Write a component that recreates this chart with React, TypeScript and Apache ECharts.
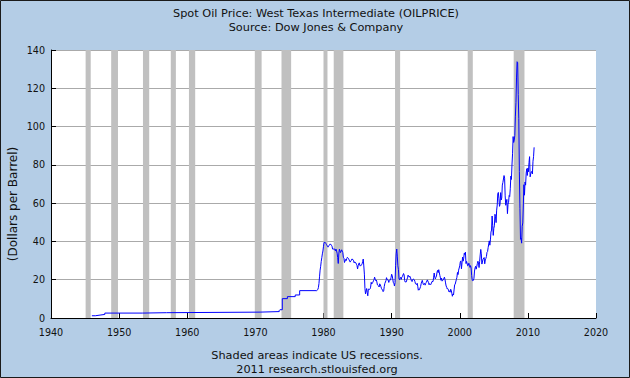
import React, { useEffect, useRef } from "react";
import * as echarts from "echarts";

// Step-wise posted prices (start year of each level, price in $/bbl)
const earlyStepYears = [1946.0, 1946.5, 1947.2, 1947.9, 1953.4, 1956.95, 1970.7, 1973.5, 1973.6, 1973.95, 1974.7, 1975.85, 1976.5, 1979.0];
const earlyStepPrices = [1.17, 1.52, 1.87, 2.57, 2.77, 3.07, 3.35, 3.87, 4.31, 10.11, 11.16, 12.03, 14.3, 14.3];

const monthlyStartYear = 1979;
const prices1979to1989 = [
  [14.3, 14.3, 14.85, 15.85, 18.0, 21.5, 25.0, 27.0, 29.5, 31.5, 33.5, 35.0],
  [37.5, 39.5, 39.5, 39.5, 39.0, 38.5, 38.0, 37.5, 37.0, 37.5, 38.0, 38.5],
  [38.5, 38.5, 38.0, 37.5, 36.0, 36.0, 36.0, 36.0, 36.0, 35.0, 36.0, 35.0],
  [33.85, 31.56, 28.48, 33.45, 35.93, 35.07, 34.16, 33.95, 35.63, 35.68, 34.15, 31.72],
  [31.18, 29.0, 28.8, 30.6, 30.0, 31.0, 31.7, 31.9, 31.1, 30.4, 29.8, 29.2],
  [29.7, 30.1, 30.8, 30.6, 30.5, 29.9, 28.8, 29.3, 29.3, 28.8, 28.1, 27.4],
  [25.6, 27.3, 28.2, 28.8, 27.6, 27.1, 27.3, 27.8, 28.3, 29.5, 30.8, 27.2],
  [22.9, 15.4, 12.6, 12.8, 15.4, 13.4, 11.6, 15.1, 14.9, 14.9, 15.2, 16.1],
  [18.65, 17.75, 18.3, 18.68, 19.44, 20.07, 21.34, 20.31, 19.53, 19.86, 18.85, 17.28],
  [17.13, 16.8, 16.2, 17.86, 17.42, 16.53, 15.5, 15.52, 14.54, 13.77, 14.14, 16.38],
  [18.02, 17.94, 19.48, 21.07, 20.12, 20.05, 19.78, 18.58, 19.59, 20.1, 19.86, 21.1],
];
const prices1990to1999 = [
  [22.86, 22.11, 20.39, 18.43, 18.2, 16.7, 18.45, 27.31, 33.51, 36.04, 32.33, 27.28],
  [25.23, 20.48, 19.9, 20.83, 21.23, 20.19, 21.4, 21.69, 21.89, 23.23, 22.46, 19.5],
  [18.79, 19.01, 18.92, 20.23, 20.98, 22.39, 21.78, 21.34, 21.88, 21.69, 20.34, 19.41],
  [19.03, 20.09, 20.32, 20.25, 19.95, 19.09, 17.89, 18.01, 17.5, 18.15, 16.61, 14.52],
  [15.03, 14.78, 14.68, 16.42, 17.89, 19.06, 19.66, 18.38, 17.45, 17.72, 18.07, 17.16],
  [18.04, 18.57, 18.54, 19.9, 19.74, 18.45, 17.33, 18.02, 18.23, 17.43, 17.99, 19.03],
  [18.85, 19.09, 21.33, 23.5, 21.17, 20.42, 21.3, 21.9, 23.97, 24.88, 23.71, 25.23],
  [25.13, 22.18, 20.97, 19.7, 20.82, 19.26, 19.66, 19.95, 19.8, 21.33, 20.19, 18.33],
  [16.72, 16.06, 15.12, 15.35, 14.91, 13.72, 14.17, 13.47, 15.03, 14.46, 13.0, 11.35],
  [12.52, 12.01, 14.68, 17.31, 17.72, 17.92, 20.1, 21.28, 23.8, 22.69, 25.0, 26.1],
];
const prices2000to2010 = [
  [27.26, 29.37, 29.84, 25.72, 28.79, 31.82, 29.7, 31.26, 33.88, 33.11, 34.42, 28.44],
  [29.59, 29.61, 27.24, 27.49, 28.63, 27.6, 26.43, 27.37, 26.2, 22.17, 19.64, 19.39],
  [19.72, 20.72, 24.53, 26.18, 27.04, 25.52, 26.97, 28.39, 29.66, 28.84, 26.35, 29.46],
  [32.95, 35.83, 33.51, 28.17, 28.11, 30.66, 30.76, 31.57, 28.31, 30.34, 31.11, 32.13],
  [34.31, 34.69, 36.74, 36.75, 40.28, 38.03, 40.78, 44.9, 45.94, 53.28, 48.47, 43.15],
  [46.84, 48.15, 54.19, 52.98, 49.83, 56.35, 59.0, 64.99, 65.59, 62.26, 58.32, 59.41],
  [65.49, 61.63, 62.69, 69.44, 70.84, 70.95, 74.41, 73.04, 63.8, 58.89, 59.08, 61.96],
  [54.51, 59.28, 60.44, 63.98, 63.46, 67.49, 74.12, 72.36, 79.92, 85.8, 94.77, 91.69],
  [92.97, 95.39, 105.45, 112.58, 125.4, 133.88, 133.37, 116.67, 104.11, 76.61, 57.31, 41.12],
  [41.71, 39.09, 47.94, 49.65, 59.03, 69.64, 64.15, 71.05, 69.41, 75.72, 77.99, 74.47],
  [78.33, 76.39, 81.2, 84.29, 73.74, 75.34, 76.32, 76.6, 75.24, 81.89, 84.25, 89.15],
];

// US recessions (decimal years)
const recessionStarts = [1945.083, 1948.833, 1953.5, 1957.583, 1960.25, 1969.917, 1973.833, 1980.0, 1981.5, 1990.5, 2001.167, 2007.917];
const recessionEnds = [1945.833, 1949.833, 1954.417, 1958.333, 1961.167, 1970.917, 1975.25, 1980.583, 1982.917, 1991.25, 2001.917, 2009.5];

const xMin = 1940;
const xMax = 2020;
const xStep = 10;
const yMin = 0;
const yMax = 140;
const yStep = 20;

const titleLine1 = "Spot Oil Price: West Texas Intermediate (OILPRICE)";
const titleLine2 = "Source: Dow Jones & Company";
const footLine1 = "Shaded areas indicate US recessions.";
const footLine2 = "2011 research.stlouisfed.org";
const yAxisTitle = "(Dollars per Barrel)";

const FONT = "'DejaVu Sans', Verdana, sans-serif";

export default function App() {
  const ref = useRef<HTMLDivElement>(null);
  useEffect(() => {
    if (!ref.current) return;
    const chart = echarts.init(ref.current, null, { renderer: "svg" });
    const monthlyRows = [...prices1979to1989, ...prices1990to1999, ...prices2000to2010];
    const monthly: number[][] = [];
    monthlyRows.forEach((row, yi) =>
      row.forEach((v, m) => monthly.push([monthlyStartYear + yi + m / 12, v]))
    );
    const early = earlyStepYears.map((y, i) => [y, earlyStepPrices[i]]);
    const recessions = recessionStarts.map((s, i) => [{ xAxis: s }, { xAxis: recessionEnds[i] }]);

    const textEl = (t: string, x: number, y: number, size: number, rotation = 0) => ({
      type: "text",
      x,
      y,
      rotation,
      silent: true,
      style: {
        text: t,
        fill: "#111",
        fontSize: size,
        fontFamily: FONT,
        align: "center",
        verticalAlign: "middle",
        textAlign: "center",
        textVerticalAlign: "middle",
      },
    });

    chart.setOption({
      animation: false,
      backgroundColor: "#b4cde6",
      grid: {
        left: 51,
        right: 34,
        top: 50,
        bottom: 60,
        containLabel: false,
        show: true,
        backgroundColor: "#ffffff",
        borderWidth: 0,
      },
      xAxis: {
        type: "value",
        min: xMin,
        max: xMax,
        interval: xStep,
        axisLine: { show: true, lineStyle: { color: "#000", width: 1 } },
        axisTick: { show: true, inside: true, length: 5, lineStyle: { color: "#000" } },
        axisLabel: { color: "#111", fontSize: 9.6, fontFamily: FONT, margin: 9, formatter: (v: number) => String(v) },
        splitLine: { show: false },
      },
      yAxis: {
        type: "value",
        min: yMin,
        max: yMax,
        interval: yStep,
        axisLine: { show: true, lineStyle: { color: "#000", width: 1 } },
        axisTick: { show: true, inside: true, length: 5, lineStyle: { color: "#000" } },
        axisLabel: { color: "#111", fontSize: 9.6, fontFamily: FONT, margin: 6 },
        splitLine: { show: true, lineStyle: { color: "#aaaaaa", width: 1 } },
      },
      graphic: [
        textEl(titleLine1, 316, 13, 11.3),
        textEl(titleLine2, 316, 27, 11.3),
        textEl(footLine1, 317, 355, 11.3),
        textEl(footLine2, 317, 369, 11.3),
        textEl(yAxisTitle, 13, 204, 12, Math.PI / 2),
        {
          type: "rect",
          silent: true,
          z: 100,
          shape: { x: 0.5, y: 0.5, width: 629, height: 377 },
          style: { fill: "none", stroke: "#1a1a1a", lineWidth: 1 },
        },
      ],
      series: [
        {
          type: "line",
          data: [],
          z: 1,
          silent: true,
          markArea: {
            silent: true,
            itemStyle: { color: "#c0c0c0", opacity: 1 },
            data: recessions,
          },
        },
        {
          type: "line",
          data: early,
          step: "end",
          symbol: "none",
          z: 3,
          silent: true,
          lineStyle: { color: "#0000ff", width: 1 },
        },
        {
          type: "line",
          data: monthly,
          symbol: "none",
          z: 3,
          silent: true,
          lineStyle: { color: "#0000ff", width: 1 },
        },
      ],
    });
    return () => chart.dispose();
  }, []);
  return <div ref={ref} style={{ position: "fixed", left: 0, top: 0, width: 630, height: 378 }} />;
}
